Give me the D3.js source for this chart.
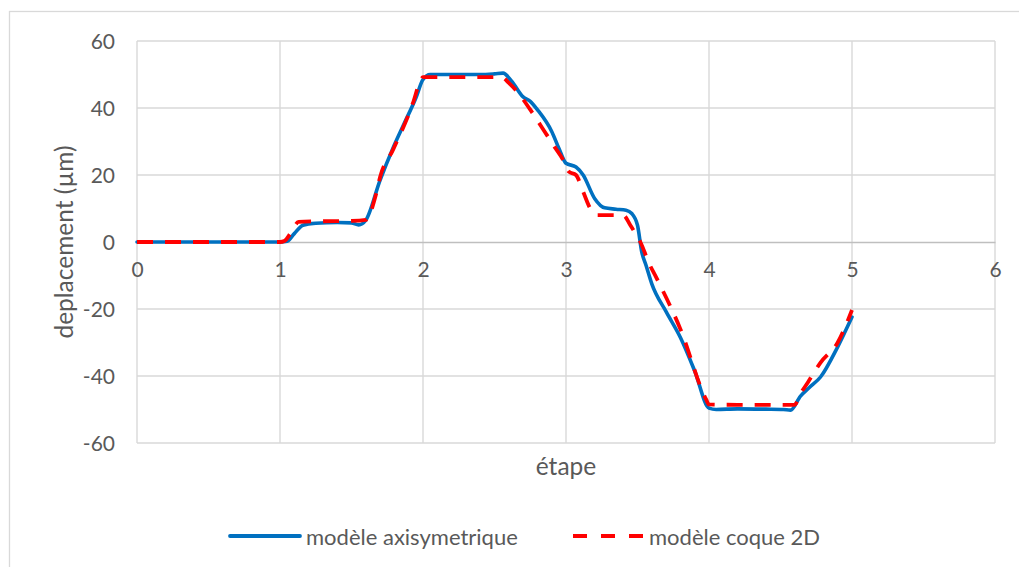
<!DOCTYPE html>
<html>
<head>
<meta charset="utf-8">
<script src="https://cdn.jsdelivr.net/npm/d3@7/dist/d3.min.js"></script>
<style>
  html, body { margin: 0; padding: 0; background: #fff; }
  svg { display: block; font-family: Lato, "Open Sans", sans-serif; }
</style>
</head>
<body>
<svg id="chart" width="1019" height="567"></svg>
<script>
// Displacement per step for the two models
const axiEtape = [0, 0.5, 1.0, 1.05, 1.1, 1.16, 1.25, 1.4, 1.5, 1.55, 1.6, 1.7, 1.79, 1.87, 1.95, 2.0, 2.05, 2.2, 2.4, 2.5, 2.56, 2.62, 2.7, 2.75, 2.8, 2.9, 2.95, 3.0, 3.07, 3.12, 3.2, 3.27, 3.35, 3.42, 3.46, 3.5, 3.53, 3.56, 3.6, 3.7, 3.8, 3.9, 4.0, 4.05, 4.2, 4.4, 4.52, 4.57, 4.64, 4.7, 4.78, 4.9, 5.0];
const axiDepl  = [0, 0, 0, 0.2, 2.5, 5.0, 5.6, 5.8, 5.7, 5.1, 6.5, 18.5, 28, 35.5, 43, 48.5, 50, 50, 50, 50.2, 50.4, 48, 43.3, 42, 39.5, 33, 28, 23.5, 22.4, 20, 13, 10.2, 9.8, 9.5, 8.5, 5, -3, -7, -12.5, -20.8, -28.5, -38.5, -49.6, -50, -49.8, -49.9, -50, -50.2, -46, -43.5, -40.3, -31.3, -22.4];

const coqueEtape = [0, 0.5, 1.0, 1.03, 1.08, 1.13, 1.3, 1.5, 1.6, 1.67, 1.7, 1.79, 1.93, 1.98, 2.0, 2.2, 2.4, 2.55, 2.6, 2.66, 2.75, 2.85, 2.92, 2.98, 3.02, 3.07, 3.12, 3.17, 3.22, 3.3, 3.4, 3.45, 3.5, 3.52, 3.58, 3.63, 3.8, 3.98, 4.0, 4.2, 4.4, 4.6, 4.63, 4.69, 4.78, 4.9, 5.0];
const coqueDepl  = [0, 0, 0, 0.3, 3, 6, 6.2, 6.3, 6.6, 14, 19.4, 27.5, 41.5, 48, 49.2, 49.2, 49.2, 49.2, 47.5, 44.8, 39.5, 33, 28.4, 24.5, 21, 20, 15, 10, 8, 8, 8, 5, 1.5, 0, -6.3, -10.5, -26, -47, -48.5, -48.6, -48.6, -48.6, -46, -42, -36, -30, -20.3];

const xTicks = [0, 1, 2, 3, 4, 5, 6];
const yTicks = [-60, -40, -20, 0, 20, 40, 60];

const seriesNames = ["modèle axisymetrique", "modèle coque 2D"];
const seriesColors = ["#0070c0", "#ff0000"];
const xTitle = "étape";
const yTitle = "deplacement (µm)";

const svg = d3.select("#chart");
const W = 1019, H = 567;
const plot = { left: 137, right: 995, top: 41, bottom: 443 };

const x = d3.scaleLinear().domain([0, 6]).range([plot.left, plot.right]);
const y = d3.scaleLinear().domain([-60, 60]).range([plot.bottom, plot.top]);

// chart frame
svg.append("rect")
  .attr("x", 9.5).attr("y", 11.5)
  .attr("width", W + 20).attr("height", H + 20)
  .attr("fill", "#fff").attr("stroke", "#d9d9d9").attr("stroke-width", 1.3);

const textColor = "#595959";
const tickSize = 21, legendSize = 22, titleSize = 24.5;
const plainNumber = d => String(d);

// gridlines
const grid = svg.append("g");
grid.selectAll("line.v").data(xTicks).join("line")
  .attr("class", "v")
  .attr("x1", d => x(d)).attr("x2", d => x(d))
  .attr("y1", plot.top).attr("y2", plot.bottom)
  .attr("stroke", "#d9d9d9").attr("stroke-width", 1.4);
grid.selectAll("line.h").data(yTicks.filter(d => d !== 0)).join("line")
  .attr("class", "h")
  .attr("x1", plot.left).attr("x2", plot.right)
  .attr("y1", d => y(d)).attr("y2", d => y(d))
  .attr("stroke", "#d9d9d9").attr("stroke-width", 1.4);

// y axis (left) labels
const yAxis = d3.axisLeft(y).tickValues(yTicks).tickSize(0).tickPadding(22).tickFormat(plainNumber);
const gy = svg.append("g").attr("transform", `translate(${plot.left},0)`).call(yAxis);
gy.select(".domain").remove();
gy.selectAll("text").attr("fill", textColor).style("font-size", tickSize + "px")
  .style("font-family", "Lato, sans-serif").attr("dy", "0.35em");

// x axis crossing at zero
const xAxis = d3.axisBottom(x).tickValues(xTicks).tickSize(0).tickPadding(20).tickFormat(plainNumber);
const gx = svg.append("g").attr("transform", `translate(0,${y(0)})`).call(xAxis);
gx.select(".domain").attr("stroke", "#bfbfbf").attr("stroke-width", 1.4);
gx.selectAll("text").attr("fill", textColor).style("font-size", tickSize + "px")
  .style("font-family", "Lato, sans-serif");

// axis titles
svg.append("text")
  .attr("x", (plot.left + plot.right) / 2).attr("y", 465)
  .attr("text-anchor", "middle").attr("dominant-baseline", "central")
  .attr("fill", textColor).style("font-size", titleSize + "px")
  .text(xTitle);
svg.append("text")
  .attr("transform", `translate(63,${y(0)}) rotate(-90)`)
  .attr("text-anchor", "middle").attr("dominant-baseline", "central")
  .attr("fill", textColor).style("font-size", titleSize + "px")
  .text(yTitle);

// series lines
const line = d3.line()
  .x(d => x(d[0])).y(d => y(d[1]))
  .curve(d3.curveMonotoneX);

const axiData = axiEtape.map((e, i) => [e, axiDepl[i]]);
const coqueData = coqueEtape.map((e, i) => [e, coqueDepl[i]]);

svg.append("path").datum(axiData)
  .attr("d", line)
  .attr("fill", "none").attr("stroke", seriesColors[0])
  .attr("stroke-width", 3.6).attr("stroke-linejoin", "round").attr("stroke-linecap", "round");

svg.append("path").datum(coqueData)
  .attr("d", line)
  .attr("fill", "none").attr("stroke", seriesColors[1])
  .attr("stroke-width", 3.8).attr("stroke-dasharray", "16,12");

// legend
const legend = svg.append("g");
const legendItems = [
  { name: seriesNames[0], color: seriesColors[0], dash: null, x0: 230 },
  { name: seriesNames[1], color: seriesColors[1], dash: "14,14", x0: 573 }
];
const ly = 536;
legendItems.forEach(it => {
  legend.append("line")
    .attr("x1", it.x0).attr("x2", it.x0 + 70)
    .attr("y1", ly).attr("y2", ly)
    .attr("stroke", it.color).attr("stroke-width", 3.8)
    .attr("stroke-linecap", it.dash ? "butt" : "round")
    .attr("stroke-dasharray", it.dash);
  legend.append("text")
    .attr("x", it.x0 + 76).attr("y", ly)
    .attr("dominant-baseline", "central")
    .attr("fill", textColor).style("font-size", legendSize + "px")
    .text(it.name);
});
</script>
</body>
</html>
